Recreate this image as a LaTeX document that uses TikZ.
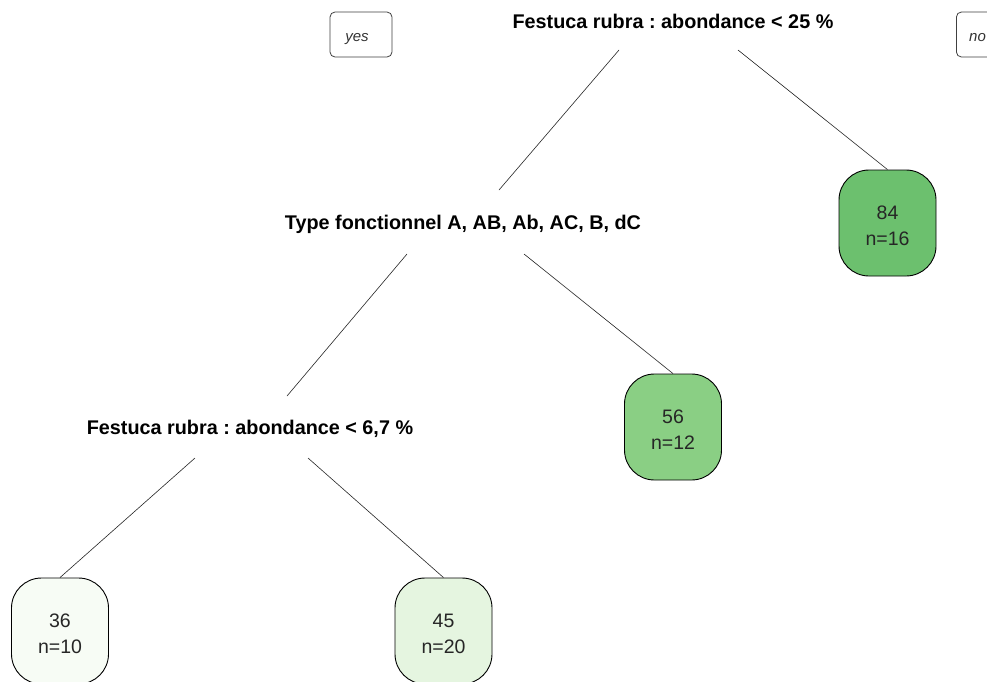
\documentclass[tikz,border=0pt]{standalone}
\usepackage{fontspec}
\setmainfont{Liberation Sans}
\frenchspacing
\begin{document}
\begin{tikzpicture}[x=1pt,y=-1pt,
  split/.style={font=\fontsize{19.8}{23}\selectfont\bfseries, inner sep=0pt},
  leaf/.style={draw=black, line width=0.9pt, rounded corners=30pt, minimum width=97pt, minimum height=106pt, inner sep=0pt},
  leaftext/.style={align=center, inner sep=0pt, font=\fontsize{19.5}{26}\selectfont, text=black!85},
  tag/.style={draw=black!75, line width=0.8pt, rounded corners=5pt, minimum height=45pt, inner sep=0pt, text=black!80},
  tagtext/.style={font=\fontsize{15}{18}\selectfont\itshape, text=black!80, inner sep=0pt},
  edge/.style={draw=black!85, line width=0.6pt}]
\useasboundingbox (0,0) rectangle (987,681);
\begin{scope}
\clip (0,0) rectangle (987,681);
\fill[white] (0,0) rectangle (987,681);
% yes / no tags
\node[tag, minimum width=62pt] (yes) at (361,34.5) {};
\node[tagtext, anchor=base] (yestxt) at (357,41) {yes};
\node[tag, minimum width=62pt, anchor=west] (no) at (956,34.5) {};
\node[tagtext, anchor=base west] (notxt) at (969,41) {no};
% split labels
\node[split] (root) at (673,21) {Festuca rubra : abondance < 25 \%};
\node[split] (type) at (463,224) {Type fonctionnel A, AB, Ab, AC, B, dC};
\node[split] (fr2) at (250,429) {Festuca rubra : abondance < 6,7 \%};
% leaves
\node[leaf, fill={rgb,255:red,108;green,192;blue,110}] (l84) at (887.5,223) {};
\node[leaf, fill={rgb,255:red,138;green,207;blue,132}] (l56) at (673,427) {};
\node[leaf, fill={rgb,255:red,247;green,252;blue,245}] (l36) at (60,631) {};
\node[leaf, fill={rgb,255:red,229;green,245;blue,224}] (l45) at (443.5,631) {};
\node[leaftext] (t84) at ([yshift=-3pt]l84.center) {84\\n=16};
\node[leaftext] (t56) at ([yshift=-3pt]l56.center) {56\\n=12};
\node[leaftext] (t36) at ([yshift=-3pt]l36.center) {36\\n=10};
\node[leaftext] (t45) at ([yshift=-3pt]l45.center) {45\\n=20};
% connector ends
\coordinate (rootL) at (619,50);
\coordinate (rootR) at (738,50);
\coordinate (typeT) at (499,190);
\coordinate (typeL) at (407,254);
\coordinate (typeR) at (524,254);
\coordinate (frT) at (287,396);
\coordinate (frL) at (195,458);
\coordinate (frR) at (308,458);
\draw[edge] (rootL) -- (typeT);
\draw[edge] (rootR) -- (l84.north);
\draw[edge] (typeL) -- (frT);
\draw[edge] (typeR) -- (l56.north);
\draw[edge] (frL) -- (l36.north);
\draw[edge] (frR) -- (l45.north);
\end{scope}
\end{tikzpicture}
\end{document}
